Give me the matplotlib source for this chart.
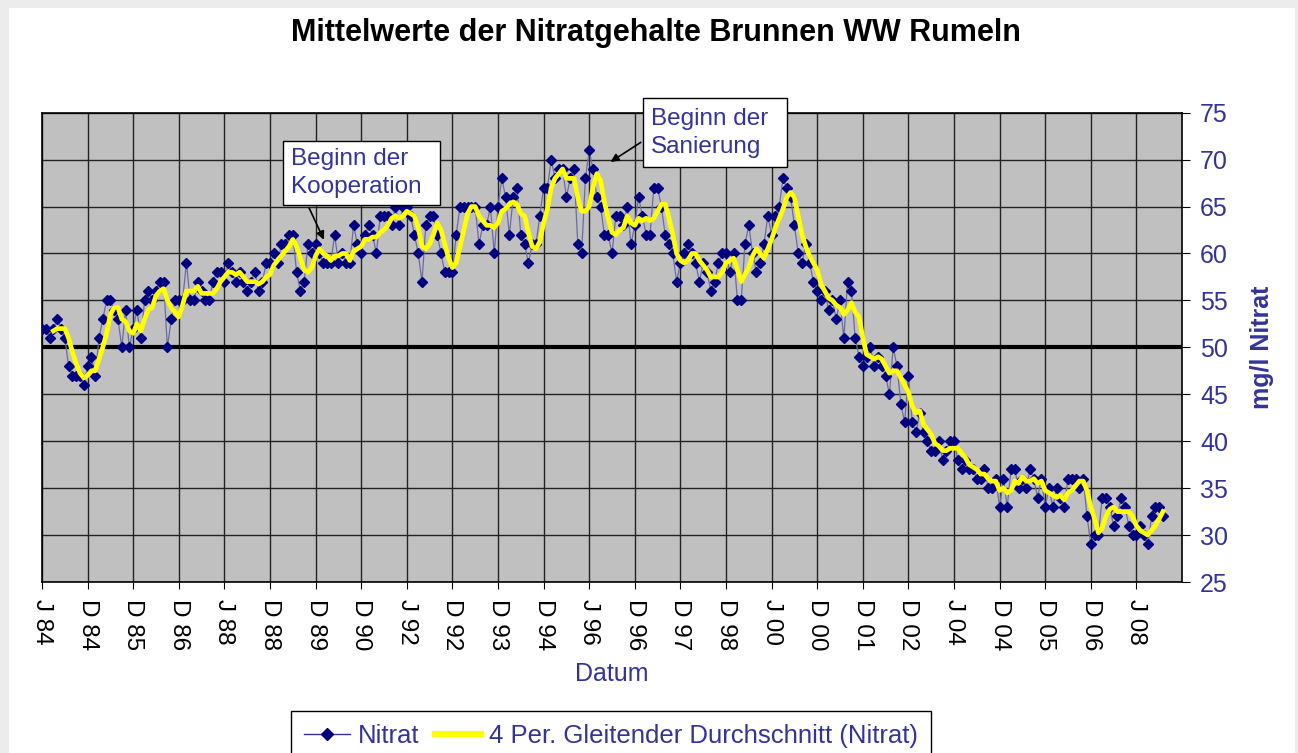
import numpy as np
import pandas as pd
import matplotlib
matplotlib.use('Agg')
import matplotlib.pyplot as plt
from matplotlib.lines import Line2D
from matplotlib.patches import Rectangle

plt.rcParams['font.family'] = ['Liberation Sans', 'DejaVu Sans']

# Monatsmittel Nitrat (mg/l), Jan 1984 .. Aug 2008
nitrat = [
    52, 52, 51, 52, 53, 52, 51, 48, 47, 47, 47, 46,   # 1984
    48, 49, 47, 51, 53, 55, 55, 54, 53, 50, 54, 50,   # 1985
    52, 54, 51, 55, 56, 55, 56, 57, 57, 50, 53, 55,   # 1986
    55, 55, 59, 55, 55, 57, 56, 55, 55, 57, 58, 58,   # 1987
    57, 59, 58, 57, 58, 57, 56, 57, 58, 56, 57, 59,   # 1988
    59, 60, 59, 61, 61, 62, 62, 58, 56, 57, 61, 60,   # 1989
    61, 60, 59, 59, 59, 62, 59, 60, 59, 59, 63, 61,   # 1990
    60, 62, 63, 62, 60, 64, 64, 64, 63, 65, 63, 65,   # 1991
    65, 64, 62, 60, 57, 63, 64, 64, 62, 60, 58, 58,   # 1992
    58, 62, 65, 65, 65, 65, 65, 61, 63, 63, 65, 60,   # 1993
    65, 68, 66, 62, 66, 67, 62, 61, 59, 61, 61, 64,   # 1994
    67, 67, 70, 68, 69, 69, 66, 68, 69, 61, 60, 68,   # 1995
    71, 69, 66, 65, 62, 62, 60, 64, 64, 63, 65, 61,   # 1996
    63, 66, 64, 62, 62, 67, 67, 65, 62, 61, 60, 57,   # 1997
    59, 60, 61, 60, 59, 57, 59, 58, 56, 57, 59, 60,   # 1998
    60, 58, 60, 55, 55, 61, 63, 60, 58, 59, 61, 64,   # 1999
    62, 64, 65, 68, 67, 66, 63, 60, 59, 61, 59, 57,   # 2000
    56, 55, 56, 54, 55, 53, 55, 51, 57, 56, 51, 49,   # 2001
    48, 49, 50, 48, 49, 48, 47, 45, 50, 48, 44, 42,   # 2002
    47, 42, 41, 43, 41, 40, 39, 39, 40, 38, 39, 40,   # 2003
    40, 38, 37, 38, 37, 37, 36, 36, 37, 35, 35, 36,   # 2004
    33, 36, 33, 37, 37, 35, 36, 35, 37, 36, 34, 36,   # 2005
    33, 35, 33, 35, 34, 33, 36, 36, 36, 35, 36, 32,   # 2006
    29, 30, 30, 34, 34, 33, 31, 32, 34, 33, 31, 30,   # 2007
    30, 31, 30, 29, 32, 33, 33, 32,                   # 2008
]
tick_labels = ["J 84", "D 84", "D 85", "D 86", "J 88", "D 88", "D 89", "D 90",
               "J 92", "D 92", "D 93", "D 94", "J 96", "D 96", "D 97", "D 98",
               "J 00", "D 00", "D 01", "D 02", "J 04", "D 04", "D 05", "D 06", "J 08"]
tick_step = 12
grenzwert = 50
blau = '#333399'

x = np.arange(len(nitrat))
avg = pd.Series(nitrat).rolling(4).mean()

fig = plt.figure(figsize=(12.98, 7.53), dpi=100)
fig.patch.set_facecolor('#ececec')
fig.patches.append(Rectangle((9/1298, 0), (1295-9)/1298, 1-8/753, transform=fig.transFigure,
                             fc='white', ec='none', zorder=-10))

ax = fig.add_axes([42/1298, 1-582/753, 1140/1298, 469.3/753])
ax.set_facecolor('#c0c0c0')
ax.set_xlim(0, len(tick_labels) * tick_step)
ax.set_ylim(25, 75)
ax.set_xticks(np.arange(len(tick_labels)) * tick_step)
ax.set_xticklabels(tick_labels, rotation=270, fontsize=17.5, ha='center', va='top')
ax.set_yticks(np.arange(25, 80, 5))
ax.yaxis.tick_right()
ax.tick_params(axis='y', labelsize=18, labelcolor=blau, length=6, pad=7)
ax.tick_params(axis='x', length=5, pad=7)
ax.grid(True, color='#222222', lw=1)
ax.set_axisbelow(True)
for s in ax.spines.values():
    s.set_linewidth(1.2)

ax.axhline(grenzwert, color='black', lw=3, zorder=2)
ax.plot(x, nitrat, color='#6a6aa8', lw=0.9, marker='D', ms=5.5,
        mfc='#000080', mec='#000080', zorder=3)
ax.plot(x, avg, color='#ffff00', lw=3.4, zorder=4)

# Hinweise (Textfelder mit Pfeil)
ax.add_patch(Rectangle((63.4, 65.15), 41.3, 6.85, fc='white', ec='black', lw=1, zorder=6))
ax.text(65.6, 68.6, 'Beginn der\nKooperation', color=blau, fontsize=17.5, ha='left', va='center',
        linespacing=1.35, zorder=7)
ax.annotate('', xy=(74.5, 61.2), xytext=(70, 65.1),
            arrowprops=dict(arrowstyle='-|>', color='black', lw=1.2, mutation_scale=12), zorder=6)
ax.add_patch(Rectangle((158.2, 69.2), 37.9, 7.35, fc='white', ec='black', lw=1, zorder=6,
                       clip_on=False))
ax.text(160.3, 72.85, 'Beginn der\nSanierung', color=blau, fontsize=17.5, ha='left', va='center',
        linespacing=1.35, zorder=7)
ax.annotate('', xy=(149, 69.6), xytext=(158.2, 72.0),
            arrowprops=dict(arrowstyle='-|>', color='black', lw=1.2, mutation_scale=12), zorder=6)

fig.text(656/1298, 1-33/753, 'Mittelwerte der Nitratgehalte Brunnen WW Rumeln',
         fontsize=22, fontweight='bold', ha='center', va='center')
fig.text(612/1298, 1-674/753, 'Datum', fontsize=18, color=blau, ha='center', va='center')
fig.text(1262/1298, 1-347/753, 'mg/l Nitrat', fontsize=18, fontweight='bold', color=blau,
         rotation=90, ha='center', va='center')

handles = [Line2D([], [], color=blau, lw=1, marker='D', ms=6, mfc='#000080', mec='#000080'),
           Line2D([], [], color='#ffff00', lw=4.5)]
leg = fig.legend(handles, ['Nitrat', '4 Per. Gleitender Durchschnitt (Nitrat)'],
                 loc='upper center', bbox_to_anchor=(611/1298, 1-711/753), ncol=2,
                 fontsize=18.5, labelcolor=blau, fancybox=False, edgecolor='black',
                 framealpha=1, handlelength=1.8, columnspacing=0.6, handletextpad=0.3,
                 borderaxespad=0, borderpad=0.5)
leg.get_frame().set_linewidth(1)

fig.savefig('out.png', dpi=100)
